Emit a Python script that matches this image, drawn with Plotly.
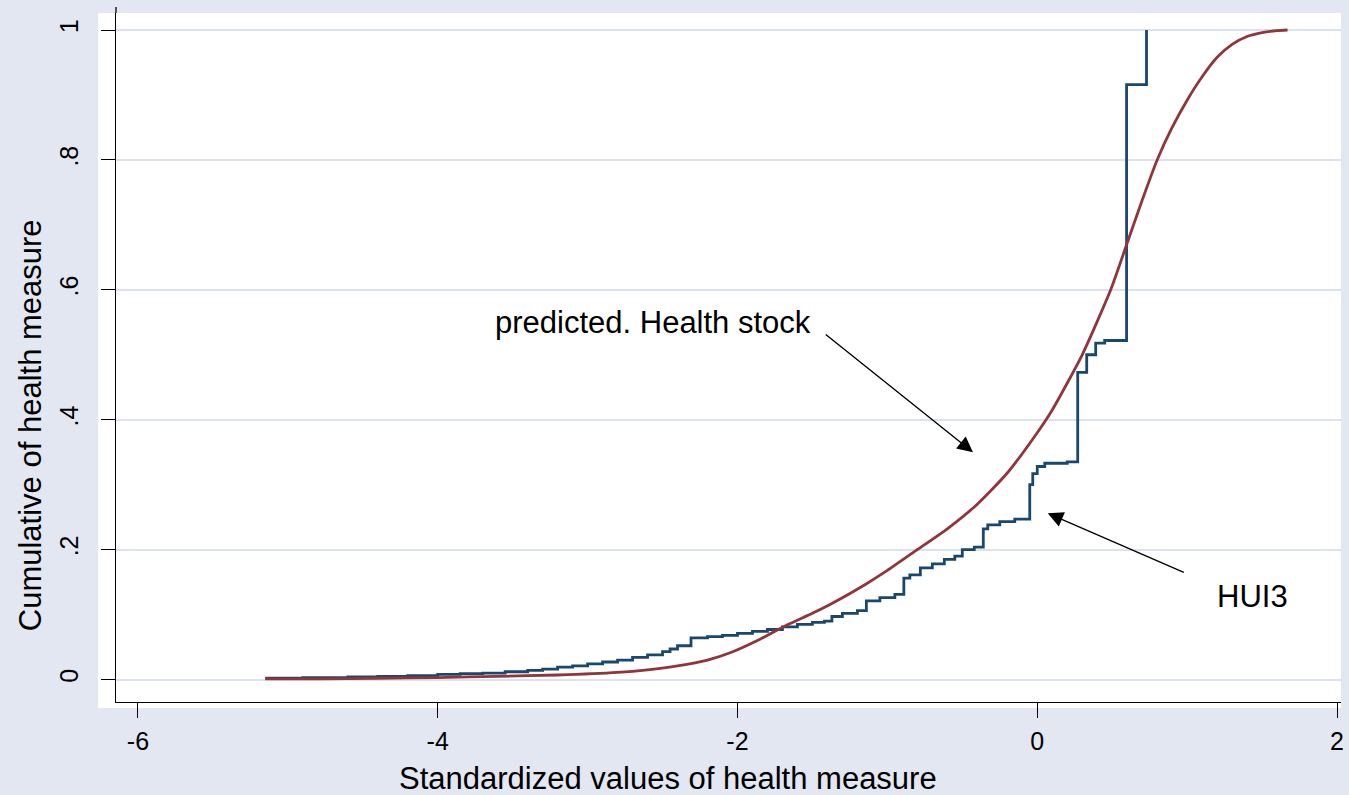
import plotly.graph_objects as go

# Predicted health stock (smooth CDF)
pred_x = [-5.15, -4.8, -4.4, -4.0, -3.6, -3.2, -2.8, -2.6, -2.4, -2.2, -2.04, -1.85, -1.67, -1.5,
          -1.37, -1.15, -1.0, -0.8, -0.6, -0.4, -0.2, 0.0, 0.1, 0.3, 0.49, 0.6, 0.7, 0.8, 0.9,
          1.0, 1.1, 1.2, 1.3, 1.4, 1.5, 1.6, 1.67]
pred_y = [0.001, 0.001, 0.002, 0.003, 0.005, 0.007, 0.011, 0.015, 0.021, 0.030, 0.042, 0.062, 0.084, 0.102,
          0.117, 0.146, 0.168, 0.200, 0.232, 0.270, 0.318, 0.380, 0.415, 0.500, 0.600, 0.672, 0.738, 0.800, 0.850,
          0.892, 0.928, 0.958, 0.978, 0.990, 0.996, 0.999, 1.000]

# HUI3 empirical CDF (step function)
hui_x = [-5.15, -4.9, -4.6, -4.4, -4.2, -4.0, -3.85, -3.7, -3.55, -3.4, -3.3, -3.2, -3.1, -3.0,
         -2.9, -2.8, -2.7, -2.6, -2.5, -2.45, -2.4, -2.31, -2.2, -2.1, -2.0, -1.9, -1.8, -1.7,
         -1.6, -1.5, -1.42, -1.37, -1.3, -1.2, -1.14, -1.05, -0.95, -0.89, -0.85, -0.78, -0.7,
         -0.62, -0.55, -0.5, -0.42, -0.36, -0.33, -0.25, -0.15, -0.05, -0.03, 0.0, 0.05, 0.2,
         0.27, 0.33, 0.39, 0.45, 0.596, 0.729]
hui_y = [0.002, 0.003, 0.004, 0.005, 0.006, 0.008, 0.009, 0.010, 0.012, 0.014, 0.016, 0.019, 0.021, 0.024,
         0.027, 0.030, 0.034, 0.038, 0.043, 0.047, 0.052, 0.064, 0.066, 0.068, 0.071, 0.074, 0.077, 0.081,
         0.085, 0.088, 0.090, 0.097, 0.102, 0.106, 0.121, 0.126, 0.131, 0.156, 0.161, 0.172, 0.178,
         0.185, 0.190, 0.200, 0.204, 0.232, 0.238, 0.243, 0.247, 0.300, 0.317, 0.328, 0.333, 0.335,
         0.473, 0.500, 0.518, 0.522, 0.916, 1.000]

x_ticks = [-6, -4, -2, 0, 2]
x_tick_labels = ["-6", "-4", "-2", "0", "2"]
y_ticks = [0, 0.2, 0.4, 0.6, 0.8, 1]
y_tick_labels = ["0", ".2", ".4", ".6", ".8", "1"]

FONT = "Liberation Sans, Arial, Helvetica, sans-serif"
NAVY = "#1A476F"
MAROON = "#90353B"
BG = "#E2E7F1"
GRID = "#DDE3EE"

fig = go.Figure()
fig.add_trace(go.Scatter(x=hui_x, y=hui_y, mode="lines", line=dict(color=NAVY, width=2.8, shape="hv"),
                         name="HUI3", showlegend=False))
fig.add_trace(go.Scatter(x=pred_x, y=pred_y, mode="lines",
                         line=dict(color=MAROON, width=2.8, shape="spline", smoothing=0.6),
                         name="predicted. Health stock", showlegend=False))

fig.update_layout(
    width=1349, height=795,
    margin=dict(l=116, r=5, t=13, b=93),
    paper_bgcolor=BG, plot_bgcolor="white",
    font=dict(family=FONT, color="black"),
    xaxis=dict(range=[-6.1464, 2.0266], tickvals=x_ticks, ticktext=x_tick_labels,
               showgrid=False, zeroline=False, showline=True, linecolor="black", linewidth=1.3,
               ticks="outside", ticklen=15, tickwidth=1.3, tickcolor="black",
               tickfont=dict(size=25, family=FONT), ticklabelstandoff=2),
    yaxis=dict(range=[-0.0346, 1.0262], tickvals=y_ticks, ticktext=y_tick_labels,
               showgrid=True, gridcolor=GRID, gridwidth=2.2, zeroline=False,
               showline=True, linecolor="black", linewidth=1.3,
               ticks="outside", ticklen=14, tickwidth=1.3, tickcolor="black",
               tickangle=-90, tickfont=dict(size=25, family=FONT), ticklabelstandoff=13),
    shapes=[
        dict(type="rect", xref="paper", yref="paper", x0=-0.0147, x1=1, y0=-0.0087, y1=1,
             fillcolor="white", line=dict(width=0), layer="below"),
        dict(type="line", xref="paper", yref="paper", x0=0, x1=0, y0=1, y1=1.0087,
             line=dict(color="black", width=1.3)),
    ],
    annotations=[
        dict(text="Standardized values of health measure", xref="paper", yref="paper",
             x=(669 - 116) / 1228, y=-(778 - 702) / 689, showarrow=False,
             font=dict(size=31, family=FONT), xanchor="center", yanchor="middle"),
        dict(text="Cumulative of health measure", xref="paper", yref="paper",
             x=-(116 - 30) / 1228, y=(702 - 425) / 689, showarrow=False, textangle=-90,
             font=dict(size=31, family=FONT), xanchor="center", yanchor="middle"),
        dict(text="predicted. Health stock", x=-2.566, y=0.55, xref="x", yref="y", showarrow=False,
             font=dict(size=31, family=FONT), xanchor="center", yanchor="middle"),
        dict(text="HUI3", x=1.434, y=0.128, xref="x", yref="y", showarrow=False,
             font=dict(size=31, family=FONT), xanchor="center", yanchor="middle"),
        dict(text="", x=-0.429, y=0.35, ax=-1.421, ay=0.533, xref="x", yref="y", axref="x", ayref="y",
             showarrow=True, arrowhead=2, arrowsize=2.2, arrowwidth=1.4, arrowcolor="black"),
        dict(text="", x=0.07, y=0.256, ax=0.988, ay=0.164, xref="x", yref="y", axref="x", ayref="y",
             showarrow=True, arrowhead=2, arrowsize=2.2, arrowwidth=1.4, arrowcolor="black"),
    ],
)

fig.write_html("out.html", config={"displayModeBar": False},
               post_script="document.body.style.margin='0';document.body.style.overflow='hidden';")
